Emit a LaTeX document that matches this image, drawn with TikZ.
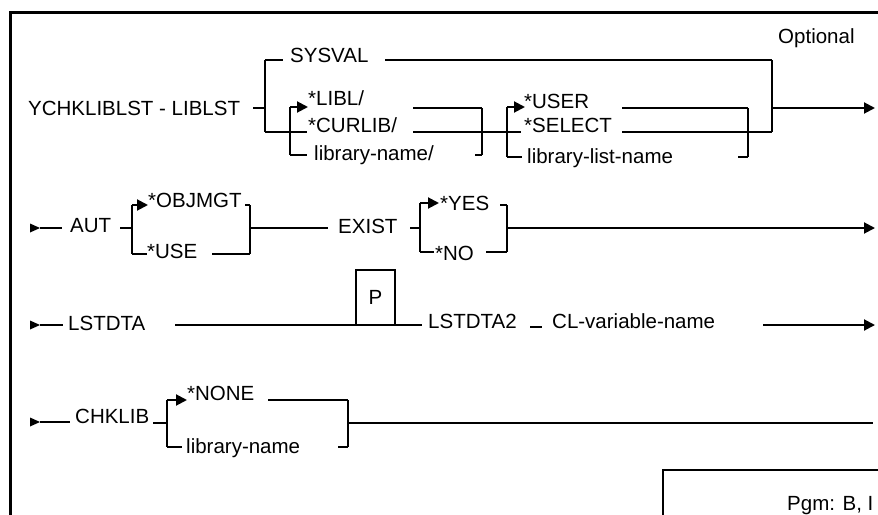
\documentclass[tikz,border=0pt]{standalone}
\usepackage{fontspec}
\setmainfont{Liberation Sans}
\usetikzlibrary{arrows.meta}

\begin{document}
\begin{tikzpicture}[x=1pt,y=-1pt,
		lbl/.style={anchor=base west,inner sep=0pt,font=\fontsize{20.5}{24}\selectfont},
		rail/.style={line width=2pt},
		brk/.style={line width=2.8pt},
		tip/.style={-{Triangle[length=11pt,width=11pt]}},
		pics/entry/.style={code={
			\fill (0,-4.5) -- (10,0) -- (0,4.5) -- cycle;
			\draw[rail] (10,0) -- (#1,0);}}]
			\useasboundingbox (0,0) rectangle (878,514);
			% frame
			\draw[line width=3pt] (10,520) -- (10,12) -- (880,12);
			\node[lbl] (optl) at (778,43) {Optional};
			% LIBLST
			\node[lbl] (cmd) at (28,115) {YCHKLIBLST - LIBLST};
			\node[lbl] (sysval) at (290,62) {SYSVAL};
			\node[lbl] (libl) at (308,105) {*LIBL/};
			\node[lbl] (curlib) at (308,132) {*CURLIB/};
			\node[lbl] (libname) at (314,160) {library-name/};
			\node[lbl] (user) at (524,108) {*USER};
			\node[lbl] (select) at (524,132) {*SELECT};
			\node[lbl] (liblist) at (527,163) {library-list-name};
			\draw[rail] (253,108) -- (265,108);
			\draw[rail] (265,60) -- (283,60);
			\draw[brk] (265,60) -- (265,132);
			\draw[rail] (265,132) -- (307,132);
			\draw[brk] (290,107) -- (290,155);
			\draw[rail,tip] (290,107) -- (308,107);
			\draw[rail] (290,155) -- (307,155);
			\draw[rail] (385,60) -- (772,60);
			\draw[brk] (772,60) -- (772,132);
			\draw[rail] (413,108) -- (482,108);
			\draw[rail] (413,132) -- (521,132);
			\draw[brk] (482,108) -- (482,155);
			\draw[rail] (475,155) -- (482,155);
			\draw[brk] (507,107) -- (507,157);
			\draw[rail,tip] (507,107) -- (525,107);
			\draw[rail] (507,157) -- (522,157);
			\draw[rail] (622,108) -- (748,108);
			\draw[rail] (622,132) -- (772,132);
			\draw[brk] (748,108) -- (748,157);
			\draw[rail] (738,157) -- (748,157);
			\draw[rail,tip] (772,108) -- (875,108);
			% AUT, EXIST
			\pic at (30,228) {entry=32};
			\node[lbl] (aut) at (70,232) {AUT};
			\node[lbl] (objmgt) at (148,207) {*OBJMGT};
			\node[lbl] (use) at (147,258) {*USE};
			\node[lbl] (exist) at (338,233) {EXIST};
			\node[lbl] (yes) at (440,210) {*YES};
			\node[lbl] (no) at (435,260) {*NO};
			\draw[rail] (120,228) -- (132,228);
			\draw[brk] (132,205) -- (132,254);
			\draw[rail,tip] (132,205) -- (148,205);
			\draw[rail] (132,254) -- (147,254);
			\draw[rail] (212,254) -- (250,254);
			\draw[rail] (245,205) -- (250,205);
			\draw[brk] (250,205) -- (250,254);
			\draw[rail] (250,228) -- (328,228);
			\draw[rail] (410,228) -- (420,228);
			\draw[brk] (420,203) -- (420,252);
			\draw[rail,tip] (420,203) -- (439,203);
			\draw[rail] (420,252) -- (434,252);
			\draw[rail] (500,205) -- (507,205);
			\draw[rail] (486,252) -- (507,252);
			\draw[brk] (507,205) -- (507,252);
			\draw[rail,tip] (507,228) -- (875,228);
			% LSTDTA
			\pic at (30,325) {entry=33};
			\node[lbl] (lstdta) at (68,330) {LSTDTA};
			\node[draw,brk,inner sep=0pt,outer sep=0pt,minimum width=39pt,minimum height=55pt,
				font=\fontsize{20.5}{24}\selectfont] (pbox) at (375.5,297.5) {P};
			\node[lbl] (lstdta2) at (428,328) {LSTDTA2};
			\node[lbl] (clvar) at (552,328) {CL-variable-name};
			\draw[rail] (175,325) -- (pbox.south west);
			\draw[rail] (pbox.south east) -- (422,325);
			\draw[rail] (530,327) -- (542,327);
			\draw[rail,tip] (763,325) -- (875,325);
			% CHKLIB
			\pic at (30,422) {entry=40};
			\node[lbl] (chklib) at (75,423) {CHKLIB};
			\node[lbl] (none) at (187,400) {*NONE};
			\node[lbl] (libname2) at (186,453) {library-name};
			\draw[rail] (153,423) -- (167,423);
			\draw[brk] (167,400) -- (167,447);
			\draw[rail,tip] (167,400) -- (187,400);
			\draw[rail] (167,447) -- (182,447);
			\draw[rail] (268,400) -- (348,400);
			\draw[rail] (338,447) -- (348,447);
			\draw[brk] (348,400) -- (348,447);
			\draw[rail] (348,423) -- (873,423);
			% program box
			\draw[brk] (663,520) -- (663,470) -- (880,470);
			\node[lbl] (pgm) at (787,510) {Pgm: B, I};
		\end{tikzpicture}
\end{document}
